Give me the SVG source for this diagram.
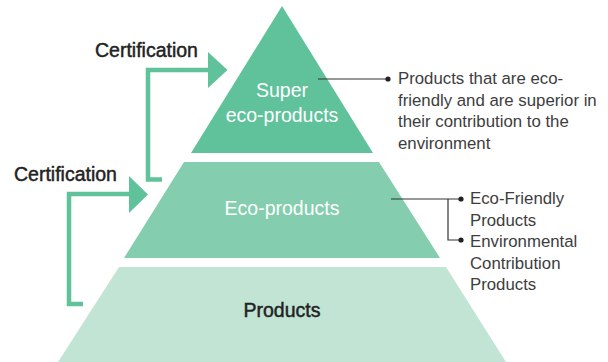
<svg xmlns="http://www.w3.org/2000/svg" width="608" height="362" viewBox="0 0 608 362">
<style>
.lbl{font-family:"Liberation Sans",Arial,sans-serif;font-size:19.5px;fill:#ffffff;text-anchor:middle}
.dark{font-family:"Liberation Sans",Arial,sans-serif;font-size:19.5px;fill:#222222;stroke:#222222;stroke-width:0.45}
.desc{font-family:"Liberation Sans",Arial,sans-serif;font-size:16.8px;fill:#3d3d3d}
.arrow{fill:none;stroke:#60c29b;stroke-width:4.5}
.head{fill:#60c29b}
.lead{fill:none;stroke:#333333;stroke-width:1.2}
.dot{fill:#222222}
</style>
<rect width="608" height="362" fill="#ffffff"/>
<g id="products">
<polygon points="119,267 446,267 506,362 58,362" fill="#c1e4d4"/>
<text class="dark" x="282" y="317" text-anchor="middle">Products</text>
</g>
<g id="eco-products">
<polygon points="184,162 379,162 440,258 124,258" fill="#84cdae"/>
<text class="lbl" x="282" y="215">Eco-products</text>
</g>
<g id="super-eco-products">
<polygon points="282,6 373,153 191,153" fill="#60c29b"/>
<text class="lbl" x="282" y="97">Super</text>
<text class="lbl" x="282" y="122">eco-products</text>
</g>
<g id="cert-upper">
<text class="dark" x="95" y="57">Certification</text>
</g>
<g id="cert-lower">
<text class="dark" x="14" y="181">Certification</text>
</g>
<g id="desc-super">
<text class="desc"><tspan x="398" y="84">Products that are eco-</tspan><tspan x="398" y="105.5">friendly and are superior in</tspan><tspan x="398" y="127">their contribution to the</tspan><tspan x="398" y="148.5">environment</tspan></text>
</g>
<g id="desc-eco">
<text class="desc"><tspan x="470" y="204">Eco-Friendly</tspan><tspan x="470" y="225.5">Products</tspan><tspan x="470" y="247">Environmental</tspan><tspan x="470" y="268.5">Contribution</tspan><tspan x="470" y="290">Products</tspan></text>
</g>
<g id="connectors">
<path class="arrow" d="M162,179.5 H148 V70 H210"/>
<polygon class="head" points="208,52 227.5,70 208,88"/>
<path class="arrow" d="M83,304 H69 V194 H131"/>
<polygon class="head" points="129,176 148,194.5 129,213"/>
<path class="lead" d="M318,79 H388"/>
<circle class="dot" cx="388" cy="79" r="2.6"/>
<path class="lead" d="M391,199 H461 M448,199 V240 H461"/>
<circle class="dot" cx="461" cy="199" r="2.6"/>
<circle class="dot" cx="461" cy="240" r="2.6"/>
</g>
</svg>
